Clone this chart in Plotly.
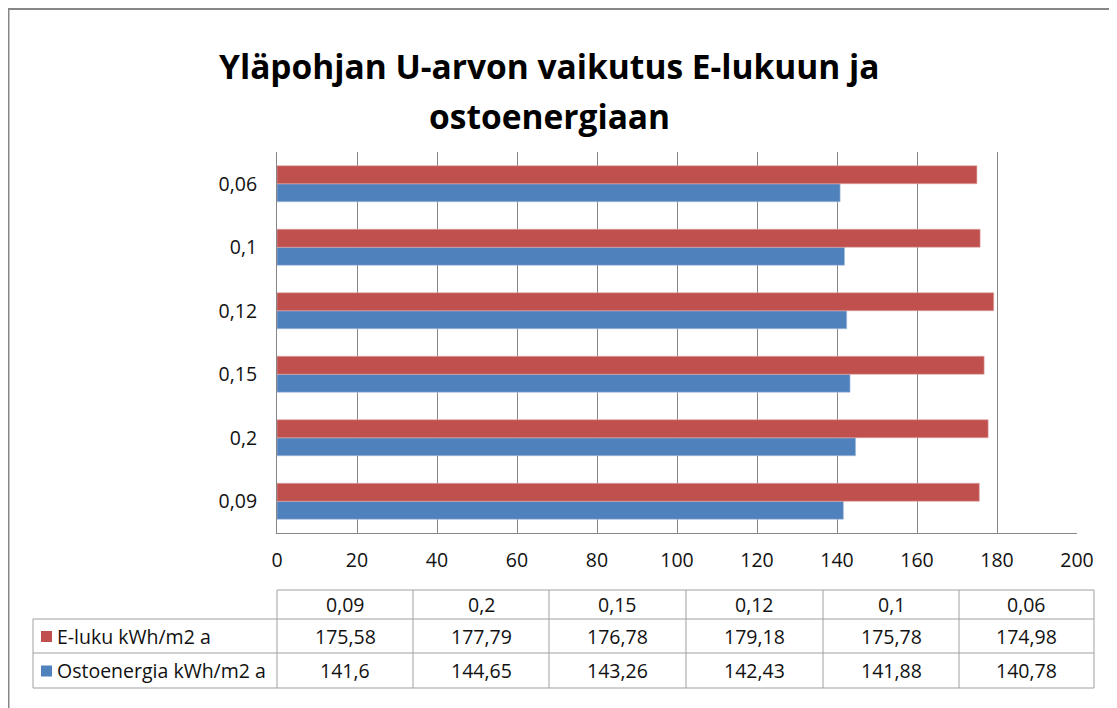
import plotly.graph_objects as go

# ---- data ----
categories = ["0,09", "0,2", "0,15", "0,12", "0,1", "0,06"]
e_luku = [175.58, 177.79, 176.78, 179.18, 175.78, 174.98]
ostoenergia = [141.6, 144.65, 143.26, 142.43, 141.88, 140.78]
series_names = ["E-luku kWh/m2 a", "Ostoenergia kWh/m2 a"]
x_ticks = list(range(0, 201, 20))
title_lines = ["Yläpohjan U-arvon vaikutus E-lukuun ja", "ostoenergiaan"]

RED = "#C0504D"
BLUE = "#4F81BD"
GRID = "#868686"
TXT = "#111111"
FONT = "Open Sans"

# page body has an 8px margin: figure occupies screen pixels 8..1117
OFF = 8
W, H = 1117 - OFF, 708 - OFF
def px(x):
    return (x - OFF) / W
def py(y):
    return 1 - (y - OFF) / H

def fmt(v):
    s = ("%.2f" % v).rstrip("0").rstrip(".")
    return s.replace(".", ",")

fig = go.Figure()
fig.add_trace(go.Bar(y=categories, x=ostoenergia, orientation="h", name=series_names[1],
                     marker=dict(color=BLUE, line=dict(color="#a9c0de", width=0.6))))
fig.add_trace(go.Bar(y=categories, x=e_luku, orientation="h", name=series_names[0],
                     marker=dict(color=RED, line=dict(color="#dda9a8", width=0.6))))

shapes = []
annotations = []

# outer chart border
shapes.append(dict(type="rect", xref="paper", yref="paper", x0=px(8.5), x1=px(1115), y0=py(720), y1=py(9),
                   line=dict(color="#878787", width=2), fillcolor="rgba(0,0,0,0)", layer="above"))

# title (two centred lines)
for line_text, yc in zip(title_lines, [66, 116]):
    annotations.append(dict(text="<b>" + line_text + "</b>", xref="paper", yref="paper",
                            x=px(549), y=py(yc), xanchor="center", yanchor="middle", showarrow=False,
                            font=dict(family=FONT, size=33.5, color="#000000")))

# data table
col_edges = [277, 413, 549, 686, 823, 959, 1094]
row_edges = [590, 619, 653, 688]
label_left = 33
LINE = dict(color="#a0a0a0", width=1)
shapes.append(dict(type="line", xref="paper", yref="paper", x0=px(col_edges[0]), x1=px(col_edges[-1]),
                   y0=py(row_edges[0]), y1=py(row_edges[0]), line=LINE))
for yy in row_edges[1:]:
    shapes.append(dict(type="line", xref="paper", yref="paper", x0=px(label_left), x1=px(col_edges[-1]),
                       y0=py(yy), y1=py(yy), line=LINE))
shapes.append(dict(type="line", xref="paper", yref="paper", x0=px(label_left), x1=px(label_left),
                   y0=py(row_edges[1]), y1=py(row_edges[-1]), line=LINE))
for xx in col_edges:
    shapes.append(dict(type="line", xref="paper", yref="paper", x0=px(xx), x1=px(xx),
                       y0=py(row_edges[0]), y1=py(row_edges[-1]), line=LINE))

FS = 19.5
tfont = dict(family=FONT, size=FS, color=TXT)
for i, c in enumerate(categories):
    cx = (col_edges[i] + col_edges[i + 1]) / 2
    annotations.append(dict(text=c, xref="paper", yref="paper", x=px(cx),
                            y=py((row_edges[0] + row_edges[1]) / 2), xanchor="center", yanchor="middle",
                            showarrow=False, font=tfont))
rows = [(series_names[0], e_luku, RED), (series_names[1], ostoenergia, BLUE)]
for r, (name, vals, col) in enumerate(rows):
    yc = (row_edges[r + 1] + row_edges[r + 2]) / 2
    shapes.append(dict(type="rect", xref="paper", yref="paper", x0=px(41), x1=px(52),
                       y0=py(yc + 6), y1=py(yc - 5), fillcolor=col, line=dict(width=0)))
    annotations.append(dict(text=name, xref="paper", yref="paper", x=px(55), y=py(yc),
                            xanchor="left", yanchor="middle", showarrow=False, font=tfont))
    for i, v in enumerate(vals):
        cx = (col_edges[i] + col_edges[i + 1]) / 2
        annotations.append(dict(text=fmt(v), xref="paper", yref="paper", x=px(cx), y=py(yc),
                                xanchor="center", yanchor="middle", showarrow=False, font=tfont))

fig.update_layout(
    width=W, height=H,
    margin=dict(l=0, r=0, t=0, b=0),
    paper_bgcolor="white", plot_bgcolor="white",
    barmode="group", bargap=0.433, bargroupgap=0,
    showlegend=False,
    shapes=shapes, annotations=annotations,
    font=dict(family=FONT, size=FS, color=TXT),
    xaxis=dict(domain=[px(277), px(1077)], range=[0, 200], tickvals=x_ticks,
               showgrid=True, gridcolor=GRID, gridwidth=1, showline=True, linecolor=GRID,
               zeroline=False, ticks="", ticklabelstandoff=10, automargin=False,
               tickfont=dict(family=FONT, size=FS, color=TXT), fixedrange=True),
    yaxis=dict(domain=[py(533), py(152)], type="category", categoryorder="array",
               categoryarray=categories, showgrid=False, showline=True, linecolor=GRID,
               ticks="", ticklabelstandoff=15, automargin=False,
               tickfont=dict(family=FONT, size=FS, color=TXT), fixedrange=True),
)

fig.write_html("out.html")
